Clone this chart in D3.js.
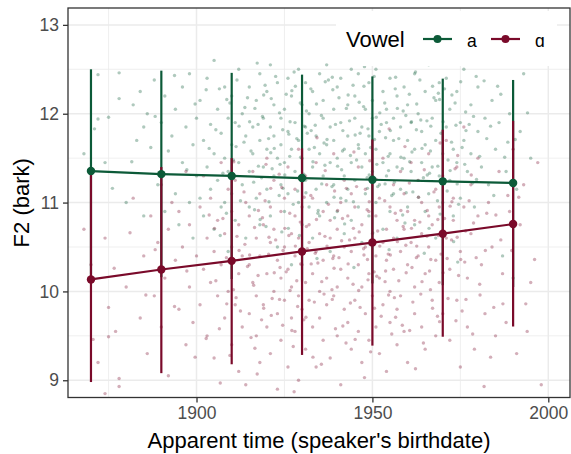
<!DOCTYPE html>
<html>
<head>
<meta charset="utf-8">
<script src="https://cdn.jsdelivr.net/npm/d3@7"></script>
<style>
  body { margin: 0; background: #fff; }
  svg { display: block; font-family: "Liberation Sans", Arial, "DejaVu Sans", sans-serif; }
</style>
</head>
<body>
<div class="plot"></div>
<script>
// GLOBAL VARIABLES

var w = 571;
var h = 454;
var margin = {left: 68, right: 1, top: 8, bottom: 56.5};

var vowels = ["a", "ɑ"];
var colors = ["#0c5a38", "#7a0a2a"];

// binned summary: year, mean and the ends of each bar
var years = [1870, 1890, 1910, 1930, 1950, 1970, 1990];
var meanA = [11.355, 11.32, 11.30, 11.276, 11.257, 11.239, 11.22];
var lowA  = [10.19, 10.16, 10.14, 10.11, 10.09, 10.07, 10.05];
var highA = [12.50, 12.485, 12.46, 12.44, 12.42, 12.395, 12.38];
var meanO = [10.135, 10.247, 10.344, 10.45, 10.55, 10.65, 10.758];
var lowO  = [8.98, 9.08, 9.18, 9.285, 9.39, 9.49, 9.605];
var highO = [11.33, 11.40, 11.50, 11.61, 11.71, 11.82, 11.92];

// tokens: [birth year, F2]
var tokensA1 = [
  [1868,11.55],[1871,11.83],[1872,12.44],[1872,11.94],[1874,11.45],[1875,11.96],[1878,12.46],[1878,12.17],[1880,11.0],[1882,12.1],
  [1883,11.7],[1884,12.25],[1885,11.85],[1885,10.85],[1886,12.0],[1887,11.62],[1888,12.38],[1889,11.2],[1890,11.9],[1891,12.2],
  [1891,10.9],[1892,11.58],[1893,11.75],[1894,12.05],[1894,11.1],[1895,10.75],[1896,11.45],[1896,12.3],[1897,11.85],[1898,11.0],
  [1898,12.45],[1899,11.65],[1899,10.6],[1900,11.95],[1900,11.3],[1901,12.15],[1901,11.05],[1902,11.7],[1902,10.85],[1903,12.4],
  [1903,11.4],[1904,11.88],[1904,11.15],[1905,12.6],[1905,11.55],[1905,10.7],[1906,12.05],[1906,11.25],[1907,11.78],[1907,10.95],
  [1908,12.3],[1908,11.5],[1908,11.0],[1909,11.95],[1909,11.35],[1909,10.45],[1910,12.2],[1910,11.65],[1910,11.1],[1911,11.9],
  [1911,10.8],[1912,12.5],[1912,11.45],[1913,12.0],[1913,11.2],[1914,11.75],[1914,10.6],[1915,12.3],[1915,11.35],[1915,10.95],
  [1916,11.85],[1916,11.55],[1917,12.15],[1917,11.05],[1918,11.7],[1918,12.45],[1918,10.75],[1919,11.4],[1919,11.95],[1920,12.25],
  [1920,11.6],[1920,11.15],[1921,11.85],[1921,10.85],[1921,12.55],[1922,11.3],[1922,11.75],[1922,12.1],[1923,11.5],[1923,10.5],
  [1923,12.35],[1924,11.95],[1924,11.2],[1924,11.65],[1925,12.05],[1925,10.9],[1925,11.45],[1926,11.8],[1926,12.4],[1926,11.1],
  [1927,11.6],[1927,10.3],[1927,12.2],[1928,11.35],[1928,11.9],[1929,12.5],[1929,11.7],[1929,11.0],[1930,12.1],[1930,11.5],
  [1930,10.75],[1931,11.85],[1931,11.25],[1931,12.35],[1932,11.6],[1932,10.95],[1932,12.0],[1933,11.4],[1933,12.25],[1933,10.6],
  [1934,11.75],[1934,11.15],[1935,12.45],[1935,11.55],[1935,10.85],[1936,11.95],[1936,11.3],[1936,12.15],[1937,11.65],[1937,11.0],
  [1937,12.55],[1938,11.45],[1938,11.85],[1938,10.45],[1939,12.05],[1939,11.2],[1939,11.7],[1940,12.3],[1940,11.5],[1940,10.9],
  [1941,11.9],[1941,11.05],[1941,12.4],[1942,11.6],[1942,11.3],[1942,10.65],[1943,12.1],[1943,11.75],[1943,11.15],[1944,12.5],
  [1944,11.45],[1944,10.8],[1945,11.95],[1945,11.25],[1945,12.2],[1946,11.65],[1946,10.95],[1946,12.45],[1947,11.4],[1947,11.85],
  [1947,10.55],[1948,12.05],[1948,11.55],[1948,11.1],[1949,11.75],[1949,12.35],[1949,10.85],[1950,11.35],[1950,11.95],[1950,12.15],
  [1951,11.6],[1951,11.0],[1951,12.5],[1952,11.8],[1952,11.2],[1953,12.25],[1953,11.45],[1953,10.7],[1954,11.9],[1954,11.3],
  [1954,12.05],[1955,11.55],[1955,10.9],[1955,12.4],[1956,11.7],[1956,11.1],[1956,11.95],[1957,12.2],[1957,11.4],[1957,10.6],
  [1958,11.85],[1958,11.15],[1959,12.3],[1959,11.5],[1960,11.7],[1960,10.95],[1960,12.1],[1961,11.35],[1961,11.9],[1962,12.45],
  [1962,11.6],[1962,10.75],[1963,11.25],[1963,12.0],[1964,11.8],[1964,11.45],[1965,12.25],[1965,10.9],[1965,11.65],[1966,11.1],
  [1966,12.55],[1967,11.95],[1967,11.4],[1968,12.15],[1968,11.7],[1968,10.6],[1969,11.3],[1969,12.35],[1970,11.55],[1970,11.0],
  [1971,12.4],[1971,11.85],[1972,11.25],[1972,12.05],[1973,11.6],[1973,10.85],[1974,12.25],[1974,11.45],[1975,11.9],[1975,11.05],
  [1976,12.5],[1976,11.7],[1977,11.35],[1978,12.1],[1978,11.55],[1979,10.95],[1980,11.8],[1980,12.3],[1981,11.4],[1982,11.95],
  [1983,11.2],[1984,12.15],[1985,11.6],[1986,11.9],[1987,10.4],[1988,11.35],[1989,12.0],[1991,11.15],[1992,11.8],[1993,12.45],
  [1995,11.5],[1990,10.15]
];
var tokensA2 = [
  [1905.5,11.82],[1906.5,12.28],[1907.5,11.33],[1908.5,10.88],[1909.5,12.12],[1910.5,11.48],[1911.5,12.38],[1912.5,11.02],[1913.5,11.68],[1914.5,12.18],
  [1915.5,11.58],[1916.5,10.92],[1917.5,11.88],[1918.5,11.28],[1919.5,12.32],[1920.5,11.72],[1921.5,11.38],[1922.5,12.42],[1923.5,11.08],[1924.5,11.82],
  [1925.5,12.22],[1926.5,11.52],[1927.5,10.98],[1928.5,11.72],[1929.5,12.12],[1930.5,11.32],[1931.5,11.78],[1932.5,12.28],[1933.5,11.62],[1934.5,10.88],
  [1935.5,11.98],[1936.5,11.42],[1937.5,12.38],[1938.5,11.18],[1939.5,11.88],[1940.5,12.18],[1941.5,11.58],[1942.5,11.02],[1943.5,11.92],[1944.5,12.32],
  [1945.5,11.48],[1946.5,11.78],[1947.5,12.08],[1948.5,11.28],[1949.5,11.62],[1950.5,12.42],[1951.5,11.18],[1952.5,11.88],[1953.5,12.12],[1954.5,11.52],
  [1955.5,11.08],[1956.5,12.28],[1957.5,11.72],[1958.5,11.38],[1959.5,11.98],[1960.5,12.22],[1961.5,11.12],[1962.5,11.82],[1963.5,12.38],[1964.5,11.28],
  [1965.5,11.92],[1966.5,11.58],[1967.5,12.18],[1968.5,11.02],[1969.5,11.78],[1970.5,12.28],[1971.5,11.48],[1972.5,11.68],[1973.5,12.12],[1974.5,10.98],
  [1975.5,11.62],[1976.5,12.02],[1977.5,11.88],[1978.5,11.22],[1979.5,12.42],[1980.5,11.52],[1982.5,11.72],[1984.5,11.08],[1986.5,12.22],[1988.5,11.68],
  [1911.25,11.63],[1913.75,12.07],[1916.25,11.23],[1918.75,11.97],[1921.25,12.17],[1923.75,11.43],[1926.25,11.77],[1928.75,11.13],[1931.25,12.03],[1933.75,11.87],
  [1936.25,11.67],[1938.75,12.27],[1941.25,11.37],[1943.75,11.53],[1946.25,12.13],[1948.75,11.83],[1951.25,11.43],[1953.75,11.73],[1956.25,11.23],[1958.75,12.03],
  [1961.25,11.57],[1963.75,11.93],[1966.25,11.33],[1968.75,12.23],[1971.25,11.13],[1973.75,11.87],[1976.25,11.43],[1978.75,11.97],[1919.75,10.73],[1929.25,10.63],
  [1939.25,10.83],[1949.25,10.53],[1959.25,10.77],[1964.75,10.43],[1944.75,10.27],[1934.25,10.37],[1924.25,10.67],[1954.75,10.47],[1969.25,10.87],[1974.25,10.33],
  [1902.75,12.27],[1897.25,11.37],[1893.75,12.43],[1888.25,11.97],[1906.75,10.63],[1917.25,12.57],[1927.75,12.47],[1947.75,12.53],[1962.25,12.47],[1981.75,12.37]
];
var tokensA3 = [
  [1915.1,11.91],[1917.6,11.41],[1919.1,12.21],[1920.6,11.01],[1922.1,11.61],[1923.6,12.01],[1925.1,11.31],[1926.6,11.91],[1928.1,12.31],[1929.6,11.51],
  [1931.1,11.11],[1932.6,11.81],[1934.1,12.11],[1935.6,11.21],[1937.1,11.71],[1938.6,12.41],[1940.1,11.41],[1941.6,11.81],[1943.1,12.21],[1944.6,11.01],
  [1946.1,11.61],[1947.6,12.31],[1949.1,11.31],[1950.6,11.71],[1952.1,12.01],[1953.6,11.21],[1955.1,11.81],[1956.6,12.41],[1958.1,11.51],[1959.6,11.11],
  [1961.1,11.91],[1962.6,12.11],[1964.1,11.61],[1965.6,11.31],[1967.1,12.31],[1968.6,11.41],[1970.1,11.91],[1972.6,12.21],[1974.1,11.21],[1976.6,11.81],
  [1916.6,12.06],[1921.1,11.56],[1924.6,11.16],[1927.1,12.26],[1930.6,11.86],[1933.1,11.46],[1936.6,12.36],[1939.1,11.06],[1942.6,12.06],[1945.1,11.76],
  [1948.6,11.16],[1951.1,11.96],[1954.6,11.36],[1957.1,12.06],[1960.6,11.46],[1963.1,11.06],[1966.6,11.86],[1969.1,12.16],[1972.1,11.36],[1975.1,12.36],
  [1918.1,10.81],[1926.1,10.71],[1934.6,10.91],[1942.1,10.76],[1950.1,10.66],[1958.6,10.86],[1966.1,10.71],[1973.1,10.56],[1979.6,11.26],[1983.6,11.86],
  [1912.1,11.86],[1908.6,12.16],[1903.6,11.61],[1899.6,12.11],[1987.6,11.51],[1985.6,12.31],[1990.6,11.71],[1994.1,12.01],[1881.6,11.46],[1876.1,11.16]
];
var tokensO1 = [
  [1868,10.7],[1870,10.3],[1872,9.2],[1874,10.6],[1875,9.49],[1875,9.82],[1877,9.55],[1878,9.02],[1878,8.93],[1874,8.85],
  [1880,10.05],[1882,11.05],[1884,9.7],[1885,10.4],[1886,9.3],[1887,10.85],[1888,9.95],[1889,10.55],[1890,11.2],[1890,9.6],
  [1891,10.15],[1892,10.7],[1892,9.05],[1893,11.0],[1894,10.35],[1895,9.8],[1895,10.9],[1896,10.5],[1897,9.4],[1897,11.35],
  [1898,10.05],[1898,10.75],[1899,9.65],[1900,10.4],[1901,10.95],[1901,9.85],[1902,10.25],[1902,11.3],[1903,9.5],[1903,10.6],
  [1904,10.1],[1904,11.05],[1905,9.25],[1905,10.45],[1906,10.8],[1906,9.95],[1907,11.45],[1907,10.3],[1908,9.7],[1908,10.65],
  [1909,11.15],[1909,10.0],[1910,9.4],[1910,10.5],[1910,10.9],[1911,9.85],[1911,11.25],[1912,10.2],[1912,9.1],[1912,10.75],
  [1913,10.4],[1913,9.6],[1914,11.0],[1914,8.95],[1915,10.3],[1915,9.75],[1915,10.85],[1916,11.35],[1916,10.1],[1917,9.5],
  [1917,10.6],[1917,9.95],[1918,10.4],[1918,11.1],[1918,9.2],[1919,10.75],[1919,9.85],[1920,10.2],[1920,11.5],[1920,9.6],
  [1921,10.55],[1921,10.95],[1921,9.3],[1922,10.0],[1922,10.7],[1922,11.25],[1923,9.75],[1923,10.35],[1923,8.9],[1924,10.9],
  [1924,9.45],[1924,10.15],[1925,11.05],[1925,10.5],[1925,9.9],[1926,10.25],[1926,9.15],[1926,11.4],[1927,10.65],[1927,9.7],
  [1927,10.05],[1928,10.85],[1928,9.55],[1928,11.15],[1928,10.4],[1929,9.95],[1929,10.6],[1929,9.0],[1929,11.6],[1930,10.3],
  [1930,9.8],[1930,10.95],[1931,10.1],[1931,9.35],[1931,11.3],[1932,10.55],[1932,9.9],[1932,10.75],[1933,11.05],[1933,9.6],
  [1933,10.2],[1934,10.45],[1934,9.15],[1934,11.45],[1935,10.0],[1935,10.65],[1935,9.7],[1936,10.9],[1936,10.35],[1936,9.45],
  [1937,11.2],[1937,10.15],[1937,9.85],[1938,10.6],[1938,9.25],[1938,10.8],[1939,10.4],[1939,9.95],[1939,11.55],[1940,10.05],
  [1940,10.7],[1940,9.5],[1941,11.0],[1941,10.25],[1941,8.95],[1942,10.5],[1942,9.8],[1942,11.25],[1943,10.85],[1943,9.65],
  [1943,10.15],[1944,10.45],[1944,9.35],[1944,11.1],[1945,10.6],[1945,9.9],[1945,10.95],[1946,10.3],[1946,9.55],[1946,11.4],
  [1947,10.75],[1947,10.05],[1947,9.2],[1948,10.5],[1948,11.15],[1948,9.75],[1949,10.2],[1949,10.9],[1949,9.45],[1950,10.65],
  [1950,11.3],[1950,9.95],[1951,10.4],[1951,9.6],[1951,10.85],[1952,11.05],[1952,10.15],[1952,9.3],[1953,10.55],[1953,9.85],
  [1953,11.5],[1954,10.35],[1954,10.7],[1954,9.1],[1955,10.95],[1955,10.0],[1955,9.65],[1956,10.6],[1956,11.2],[1956,10.25],
  [1957,9.8],[1957,10.8],[1957,9.4],[1958,11.35],[1958,10.45],[1958,9.95],[1959,10.7],[1959,11.1],[1959,9.55],[1960,10.3],
  [1960,10.9],[1960,9.2],[1961,10.55],[1961,11.45],[1962,10.05],[1962,9.75],[1962,10.8],[1963,11.25],[1963,10.4],[1964,9.6],
  [1964,10.65],[1964,11.0],[1965,10.2],[1965,9.35],[1966,10.85],[1966,11.55],[1966,10.5],[1967,9.9],[1967,10.75],[1968,11.15],
  [1968,10.35],[1968,9.5],[1969,10.95],[1969,10.1],[1970,11.3],[1970,9.75],[1971,10.6],[1971,11.7],[1972,10.25],[1972,9.45],
  [1973,11.05],[1973,10.8],[1974,9.9],[1974,11.4],[1975,10.45],[1975,9.15],[1976,10.95],[1976,11.85],[1977,10.15],[1977,9.6],
  [1978,11.2],[1978,10.65],[1979,9.35],[1980,10.85],[1980,11.5],[1981,10.3],[1982,9.75],[1983,11.0],[1984,10.5],[1985,9.5],
  [1986,11.35],[1987,10.2],[1988,9.65],[1989,10.9],[1990,11.6],[1991,9.3],[1992,10.75],[1993,11.2],[1994,9.55],[1995,10.1],
  [1997,11.45],[1998,8.95]
];
var tokensO2 = [
  [1905.5,10.12],[1906.5,9.58],[1907.5,10.82],[1908.5,10.38],[1909.5,9.28],[1910.5,10.02],[1911.5,10.62],[1912.5,9.78],[1913.5,11.12],[1914.5,10.28],
  [1915.5,9.48],[1916.5,10.72],[1917.5,10.18],[1918.5,9.68],[1919.5,11.02],[1920.5,10.42],[1921.5,9.92],[1922.5,10.58],[1923.5,11.32],[1924.5,9.62],
  [1925.5,10.22],[1926.5,10.88],[1927.5,9.38],[1928.5,10.12],[1929.5,10.78],[1930.5,9.68],[1931.5,10.48],[1932.5,11.08],[1933.5,9.88],[1934.5,10.32],
  [1935.5,9.18],[1936.5,10.62],[1937.5,10.98],[1938.5,10.02],[1939.5,9.58],[1940.5,10.38],[1941.5,10.82],[1942.5,9.42],[1943.5,10.58],[1944.5,10.08],
  [1945.5,11.18],[1946.5,9.82],[1947.5,10.48],[1948.5,10.92],[1949.5,9.32],[1950.5,10.22],[1951.5,10.68],[1952.5,9.72],[1953.5,11.02],[1954.5,10.42],
  [1955.5,9.52],[1956.5,10.88],[1957.5,10.12],[1958.5,9.62],[1959.5,10.52],[1960.5,11.22],[1961.5,9.88],[1962.5,10.38],[1963.5,10.78],[1964.5,9.42],
  [1965.5,10.62],[1966.5,10.02],[1967.5,11.12],[1968.5,9.72],[1969.5,10.42],[1970.5,10.82],[1971.5,9.92],[1972.5,10.58],[1973.5,11.38],[1974.5,10.18],
  [1975.5,9.78],[1976.5,10.68],[1977.5,11.02],[1978.5,9.52],[1979.5,10.38],[1980.5,10.08],[1982.5,10.88],[1984.5,9.82],[1986.5,10.58],[1988.5,11.08],
  [1911.25,9.93],[1913.75,10.53],[1916.25,10.07],[1918.75,10.83],[1921.25,9.73],[1923.75,10.27],[1926.25,10.63],[1928.75,9.83],[1931.25,10.73],[1933.75,10.43],
  [1936.25,9.97],[1938.75,10.37],[1941.25,10.57],[1943.75,9.87],[1946.25,10.67],[1948.75,10.13],[1951.25,10.17],[1953.75,10.23],[1956.25,9.93],[1958.75,10.73],
  [1961.25,10.27],[1963.75,9.97],[1966.25,10.23],[1968.75,10.63],[1971.25,10.37],[1973.75,9.67],[1976.25,10.33],[1978.75,10.77],[1919.75,11.43],[1929.25,11.27],
  [1939.25,11.13],[1949.25,11.47],[1959.25,11.63],[1964.75,11.37],[1944.75,11.57],[1934.25,11.73],[1924.25,11.17],[1954.75,11.83],[1969.25,11.67],[1974.25,11.53],
  [1902.75,9.47],[1897.25,10.23],[1893.75,9.83],[1888.25,10.47],[1906.75,8.97],[1917.25,9.07],[1927.75,8.87],[1947.75,9.03],[1962.25,9.13],[1981.75,8.93]
];
var tokensO3 = [
  [1915.1,10.41],[1917.6,10.91],[1919.1,9.81],[1920.6,10.61],[1922.1,10.21],[1923.6,9.91],[1925.1,10.71],[1926.6,10.01],[1928.1,10.51],[1929.6,10.31],
  [1931.1,9.71],[1932.6,10.31],[1934.1,10.81],[1935.6,10.11],[1937.1,10.51],[1938.6,9.91],[1940.1,10.91],[1941.6,9.61],[1943.1,10.31],[1944.6,10.71],
  [1946.1,10.01],[1947.6,10.41],[1949.1,11.01],[1950.6,9.81],[1952.1,10.51],[1953.6,10.11],[1955.1,10.41],[1956.6,9.71],[1958.1,10.91],[1959.6,10.21],
  [1961.1,10.71],[1962.6,10.51],[1964.1,10.11],[1965.6,10.91],[1967.1,9.81],[1968.6,10.81],[1970.1,10.21],[1972.6,11.01],[1974.1,10.61],[1976.6,9.91],
  [1916.6,9.36],[1921.1,11.16],[1924.6,10.46],[1927.1,9.56],[1930.6,11.06],[1933.1,9.26],[1936.6,11.36],[1939.1,10.26],[1942.6,11.16],[1945.1,9.46],
  [1948.6,10.36],[1951.1,11.26],[1954.6,9.96],[1957.1,10.56],[1960.6,9.56],[1963.1,11.06],[1966.6,10.36],[1969.1,9.66],[1972.1,10.96],[1975.1,10.36],
  [1978.1,11.31],[1980.6,9.96],[1982.1,10.46],[1983.6,9.26],[1985.1,10.86],[1987.1,9.86],[1989.6,10.46],[1991.6,11.06],[1993.6,9.86],[1996.1,10.36],
  [1912.1,10.46],[1908.6,9.86],[1903.6,10.86],[1899.6,9.26],[1885.6,9.96],[1881.1,10.66],[1876.6,10.26],[1870.6,9.46],[1910.6,11.46],[1905.1,10.71]
];

var xMajor = [1900, 1950, 2000];
var xMinor = [1875, 1925, 1975];
var yMajor = [9, 10, 11, 12, 13];
var yMinor = [9.5, 10.5, 11.5, 12.5];

var summary = [
  {mean: meanA, low: lowA, high: highA},
  {mean: meanO, low: lowO, high: highO}
];
var tokens = [
  tokensA1.concat(tokensA2, tokensA3),
  tokensO1.concat(tokensO2, tokensO3)
];

var svg = d3.select(".plot").append("svg").attr("width", w).attr("height", h);

// SCALES
var xScale = d3.scaleLinear()
  .domain([1863.47, 2006.17])
  .range([margin.left, w - margin.right]);
var yScale = d3.scaleLinear()
  .domain([8.806, 13.19])
  .range([h - margin.bottom, margin.top]);

var x0 = margin.left, x1 = w - margin.right;
var y0 = margin.top, y1 = h - margin.bottom;

// GRID
var grid = svg.append("g");
grid.selectAll(".vmin").data(xMinor).enter().append("line")
  .attr("x1", function (d) {return xScale(d)}).attr("x2", function (d) {return xScale(d)})
  .attr("y1", y0).attr("y2", y1)
  .attr("stroke", "#ebebeb").attr("stroke-width", 0.8);
grid.selectAll(".hmin").data(yMinor).enter().append("line")
  .attr("y1", function (d) {return yScale(d)}).attr("y2", function (d) {return yScale(d)})
  .attr("x1", x0).attr("x2", x1)
  .attr("stroke", "#ebebeb").attr("stroke-width", 0.8);
grid.selectAll(".vmaj").data(xMajor).enter().append("line")
  .attr("x1", function (d) {return xScale(d)}).attr("x2", function (d) {return xScale(d)})
  .attr("y1", y0).attr("y2", y1)
  .attr("stroke", "#ebebeb").attr("stroke-width", 1.5);
grid.selectAll(".hmaj").data(yMajor).enter().append("line")
  .attr("y1", function (d) {return yScale(d)}).attr("y2", function (d) {return yScale(d)})
  .attr("x1", x0).attr("x2", x1)
  .attr("stroke", "#ebebeb").attr("stroke-width", 1.5);

// RAW TOKENS
tokens.forEach(function (set, i) {
  svg.append("g").selectAll("circle")
    .data(set)
    .enter()
    .append("circle")
    .attr("cx", function (d) {return xScale(d[0])})
    .attr("cy", function (d) {return yScale(d[1])})
    .attr("r", 1.7)
    .attr("fill", colors[i])
    .style("opacity", 0.33);
});

// ERROR BARS, then lines, then mean dots (a first, ɑ on top)
summary.forEach(function (s, i) {
  svg.append("g").selectAll("line")
    .data(years)
    .enter()
    .append("line")
    .attr("x1", function (d) {return xScale(d)})
    .attr("x2", function (d) {return xScale(d)})
    .attr("y1", function (d, j) {return yScale(s.low[j])})
    .attr("y2", function (d, j) {return yScale(s.high[j])})
    .attr("stroke", colors[i])
    .attr("stroke-width", 2.2);
});

var line = d3.line()
  .x(function (d) {return xScale(d[0])})
  .y(function (d) {return yScale(d[1])});

summary.forEach(function (s, i) {
  svg.append("path")
    .datum(years.map(function (y, j) {return [y, s.mean[j]]}))
    .attr("d", line)
    .attr("fill", "none")
    .attr("stroke", colors[i])
    .attr("stroke-width", 2.2);
});

summary.forEach(function (s, i) {
  svg.append("g").selectAll("circle")
    .data(years)
    .enter()
    .append("circle")
    .attr("cx", function (d) {return xScale(d)})
    .attr("cy", function (d, j) {return yScale(s.mean[j])})
    .attr("r", 4.2)
    .attr("fill", colors[i]);
});

// LEGEND (inside panel, white box)
var legend = svg.append("g");
legend.append("rect")
  .attr("x", 336).attr("y", 11).attr("width", 221).attr("height", 55)
  .attr("fill", "#fff");
legend.append("text")
  .attr("x", 346).attr("y", 47)
  .attr("font-size", "22px")
  .attr("fill", "#000")
  .text("Vowel");
var keyX = [423, 491];
vowels.forEach(function (v, i) {
  legend.append("line")
    .attr("x1", keyX[i]).attr("x2", keyX[i] + 29)
    .attr("y1", 39).attr("y2", 39)
    .attr("stroke", colors[i]).attr("stroke-width", 2.2);
  legend.append("circle")
    .attr("cx", keyX[i] + 14.5).attr("cy", 39).attr("r", 4)
    .attr("fill", colors[i]);
  legend.append("text")
    .attr("x", keyX[i] + 44).attr("y", 47)
    .attr("font-size", "17.5px")
    .attr("fill", "#000")
    .text(v);
});

// PANEL BORDER
svg.append("rect")
  .attr("x", x0).attr("y", y0)
  .attr("width", x1 - x0).attr("height", y1 - y0)
  .attr("fill", "none")
  .attr("stroke", "#333333")
  .attr("stroke-width", 1.3);

// AXES
var xAxis = d3.axisBottom(xScale).tickValues(xMajor).tickFormat(d3.format("d")).tickSize(5).tickPadding(4);
var yAxis = d3.axisLeft(yScale).tickValues(yMajor).tickFormat(d3.format("d")).tickSize(5).tickPadding(4);

var gx = svg.append("g")
  .attr("transform", "translate(0," + y1 + ")")
  .call(xAxis);
var gy = svg.append("g")
  .attr("transform", "translate(" + x0 + ",0)")
  .call(yAxis);

[gx, gy].forEach(function (g) {
  g.select(".domain").remove();
  g.selectAll(".tick line").attr("stroke", "#333333").attr("stroke-width", 1.3);
  g.selectAll(".tick text")
    .attr("fill", "#4d4d4d")
    .attr("font-size", "17.5px")
    .attr("font-family", "Liberation Sans, Arial, sans-serif");
});

// axis titles
svg.append("text")
  .attr("x", (x0 + x1) / 2)
  .attr("y", 448)
  .attr("font-size", "22px")
  .style("text-anchor", "middle")
  .text("Apparent time (speaker's birthdate)");

svg.append("text")
  .attr("transform", "translate(29," + ((y0 + y1) / 2) + ") rotate(-90)")
  .attr("font-size", "22px")
  .style("text-anchor", "middle")
  .text("F2 (bark)");
</script>
</body>
</html>
